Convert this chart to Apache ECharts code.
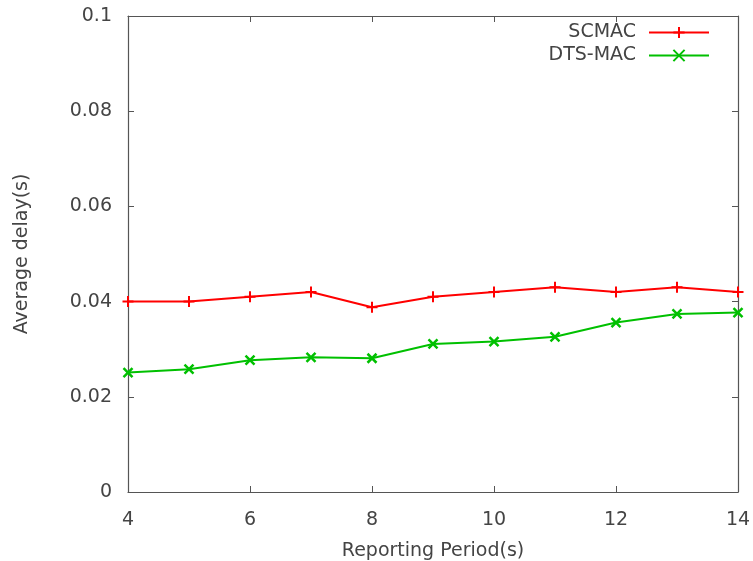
<!DOCTYPE html>
<html>
<head>
<meta charset="utf-8">
<script src="https://cdn.jsdelivr.net/npm/echarts@6/dist/echarts.min.js"></script>
<style>
  html, body { margin: 0; padding: 0; background: #fff; }
  #chart { width: 753px; height: 561px; }
</style>
</head>
<body>
<div id="chart"></div>
<script>
// Reporting period (s)
const periods = [4, 5, 6, 7, 8, 9, 10, 11, 12, 13, 14];
// Average delay (s)
const scmac = [0.040, 0.040, 0.041, 0.042, 0.0388, 0.041, 0.042, 0.043, 0.042, 0.043, 0.042];
const dtsmac = [0.0251, 0.0258, 0.0277, 0.0283, 0.0281, 0.0311, 0.0316, 0.0326, 0.0356, 0.0374, 0.0377];
const xTicks = [4, 6, 8, 10, 12, 14];
const yTicks = [0, 0.02, 0.04, 0.06, 0.08, 0.1];

const FONT = 'DejaVu Sans';
const FONT_SIZE = 19;
const TEXT_COLOR = '#444';
const AXIS_COLOR = '#555';

const plusSymbol = 'path://M0,-5 L0,5 M-5,0 L5,0';
const crossSymbol = 'path://M-4,-4 L4,4 M-4,4 L4,-4';

function pairs(values) {
  return periods.map((p, i) => [p, values[i]]);
}

const tickLine = { show: true, inside: true, length: 6, lineStyle: { color: AXIS_COLOR, width: 1 } };
const axisLine = { show: true, onZero: false, lineStyle: { color: AXIS_COLOR, width: 1.2 } };
const textStyle = { fontFamily: FONT, fontSize: FONT_SIZE, color: TEXT_COLOR };

const chart = echarts.init(document.getElementById('chart'), null, { renderer: 'canvas' });
chart.setOption({
  backgroundColor: '#fff',
  animation: false,
  grid: { left: 128, right: 15, top: 16, bottom: 69, containLabel: false, outerBoundsMode: 'none' },
  legend: [
    {
      data: ['SCMAC'], right: 43, top: 23, align: 'right', orient: 'vertical',
      itemWidth: 60, itemHeight: 14, padding: 0,
      textStyle: Object.assign({ padding: [0, 8, 0, 0] }, textStyle)
    },
    {
      data: ['DTS-MAC'], right: 43, top: 46, align: 'right', orient: 'vertical',
      itemWidth: 60, itemHeight: 14, padding: 0,
      textStyle: Object.assign({ padding: [0, 8, 0, 0] }, textStyle)
    }
  ],
  xAxis: [
    {
      type: 'value', min: 4, max: 14, interval: 2,
      name: 'Reporting Period(s)', nameLocation: 'middle', nameGap: 50,
      nameTextStyle: textStyle,
      axisLine, axisTick: tickLine,
      axisLabel: Object.assign({ margin: 19,
        formatter: v => xTicks.includes(v) ? String(v) : '' }, textStyle),
      splitLine: { show: false }
    },
    {
      type: 'value', position: 'top', min: 4, max: 14, interval: 2,
      axisLine, axisTick: tickLine, axisLabel: { show: false }, splitLine: { show: false }
    }
  ],
  yAxis: [
    {
      type: 'value', min: 0, max: 0.1, interval: 0.02,
      name: 'Average delay(s)', nameLocation: 'middle', nameGap: 96,
      nameTextStyle: textStyle,
      axisLine, axisTick: tickLine,
      axisLabel: Object.assign({ margin: 16,
        formatter: v => {
          const r = parseFloat(v.toFixed(2));
          return yTicks.includes(r) ? String(r) : '';
        } }, textStyle),
      splitLine: { show: false }
    },
    {
      type: 'value', position: 'right', min: 0, max: 0.1, interval: 0.02,
      axisLine, axisTick: tickLine, axisLabel: { show: false }, splitLine: { show: false }
    }
  ],
  series: [
    {
      name: 'SCMAC', type: 'line', data: pairs(scmac),
      symbol: plusSymbol, symbolSize: 11, showAllSymbol: true,
      lineStyle: { color: '#ff0000', width: 2 },
      itemStyle: { color: '#ff0000', borderColor: '#ff0000', borderWidth: 2 },
      emphasis: { disabled: true }
    },
    {
      name: 'DTS-MAC', type: 'line', data: pairs(dtsmac),
      symbol: crossSymbol, symbolSize: 9, showAllSymbol: true,
      lineStyle: { color: '#00c000', width: 2 },
      itemStyle: { color: '#00c000', borderColor: '#00c000', borderWidth: 2.5 },
      emphasis: { disabled: true }
    }
  ]
});
</script>
</body>
</html>
